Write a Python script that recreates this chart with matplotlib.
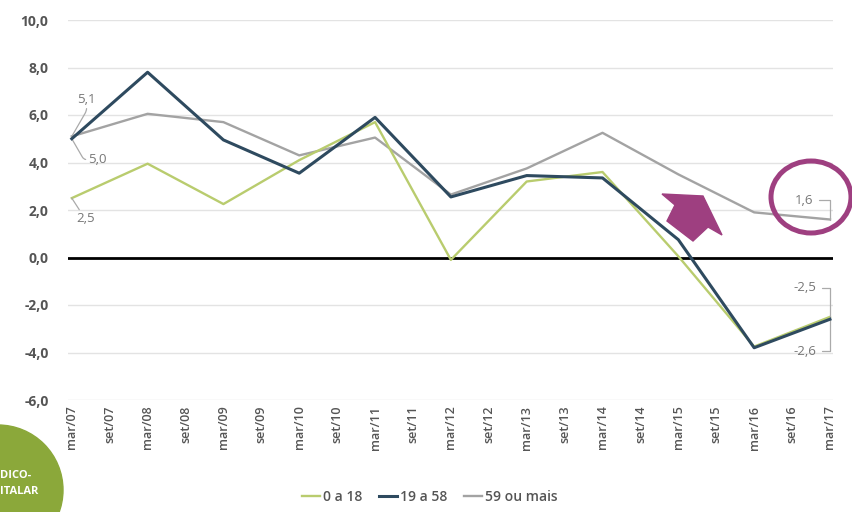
import matplotlib
matplotlib.use("Agg")
import matplotlib.pyplot as plt
import matplotlib.patches as mpatches
from matplotlib.transforms import IdentityTransform

plt.rcParams['font.family'] = ['Open Sans', 'DejaVu Sans']

# ---- data ----
x_labels = ['mar/07', 'set/07', 'mar/08', 'set/08', 'mar/09', 'set/09', 'mar/10',
            'set/10', 'mar/11', 'set/11', 'mar/12', 'set/12', 'mar/13', 'set/13',
            'mar/14', 'set/14', 'mar/15', 'set/15', 'mar/16', 'set/16', 'mar/17']
data_labels = ['mar/07', 'mar/08', 'mar/09', 'mar/10', 'mar/11', 'mar/12',
               'mar/13', 'mar/14', 'mar/15', 'mar/16', 'mar/17']
s_0a18 = [2.5, 3.95, 2.25, 4.1, 5.7, -0.1, 3.2, 3.6, 0.05, -3.75, -2.5]
s_19a58 = [5.0, 7.8, 4.95, 3.55, 5.9, 2.55, 3.45, 3.35, 0.75, -3.8, -2.6]
s_59mais = [5.1, 6.05, 5.7, 4.3, 5.05, 2.65, 3.75, 5.25, 3.5, 1.9, 1.6]
series_names = ['0 a 18', '19 a 58', '59 ou mais']
y_ticks = [-6, -4, -2, 0, 2, 4, 6, 8, 10]

W, H = 853, 512
fig = plt.figure(figsize=(W / 100, H / 100), dpi=100)
ax = fig.add_axes([68 / W, 1 - 400 / H, (833 - 68) / W, (400 - 20) / H])

xpos = [x_labels.index(l) for l in data_labels]
c_green = '#b9cc6e'
c_blue = '#2e4a5f'
c_gray = '#a3a3a3'

for yv in y_ticks:
    if yv != 0:
        ax.axhline(yv, color='#e3e3e3', lw=1.0, zorder=0)
ax.axhline(0, color='black', lw=2.0, zorder=1)

ax.plot(xpos, s_0a18, color=c_green, lw=1.7, label=series_names[0], zorder=3)
ax.plot(xpos, s_19a58, color=c_blue, lw=2.2, label=series_names[1], zorder=4)
ax.plot(xpos, s_59mais, color=c_gray, lw=1.7, label=series_names[2], zorder=2)

ax.set_xlim(-0.1, 20.08)
ax.set_ylim(-6, 10)
ax.set_xticks(range(len(x_labels)))
ax.set_xticklabels(x_labels, rotation=90, fontsize=9, color='#555555', fontweight='semibold')
ax.set_yticks(y_ticks)
ax.set_yticklabels([f"{v:.1f}".replace('.', ',') for v in y_ticks],
                   fontsize=10, fontweight='bold', color='#555555')
ax.tick_params(axis='both', length=0)
ax.tick_params(axis='y', pad=14)
ax.tick_params(axis='x', pad=4)
for sp in ax.spines.values():
    sp.set_visible(False)

# annotations (labels with leader lines)
lab_col = '#777777'
def fmt(v):
    return f"{v:.1f}".replace('.', ',')

ax.annotate(fmt(s_59mais[0]), xy=(xpos[0], s_59mais[0]), xytext=(4, 22), textcoords='offset points',
            fontsize=9.5, color=lab_col, ha='left', va='bottom',
            arrowprops=dict(arrowstyle='-', color='#aaaaaa', lw=0.9, shrinkA=0, shrinkB=0,
                            connectionstyle='angle,angleA=-90,angleB=60,rad=3'))
ax.annotate(fmt(s_19a58[0]), xy=(xpos[0], s_19a58[0]), xytext=(12, -15), textcoords='offset points',
            fontsize=9.5, color=lab_col, ha='left', va='center',
            arrowprops=dict(arrowstyle='-', color='#aaaaaa', lw=0.9, shrinkA=0, shrinkB=0,
                            connectionstyle='angle,angleA=180,angleB=-60,rad=3'))
ax.annotate(fmt(s_0a18[0]), xy=(xpos[0], s_0a18[0]), xytext=(3, -15), textcoords='offset points',
            fontsize=9.5, color=lab_col, ha='left', va='center',
            arrowprops=dict(arrowstyle='-', color='#aaaaaa', lw=0.9, shrinkA=0, shrinkB=10,
                            connectionstyle='arc3'))

# right-side bracket labels
ax.annotate(fmt(s_59mais[-1]), xy=(xpos[-1], s_59mais[-1]), xytext=(-12, 14), textcoords='offset points',
            fontsize=9.5, color=lab_col, ha='right', va='center',
            arrowprops=dict(arrowstyle='-', color='#aaaaaa', lw=0.9, shrinkA=2, shrinkB=0,
                            connectionstyle='angle,angleA=0,angleB=90,rad=0'))
ax.annotate(fmt(s_0a18[-1]), xy=(xpos[-1], s_0a18[-1]), xytext=(-10, 21), textcoords='offset points',
            fontsize=9.5, color=lab_col, ha='right', va='center',
            arrowprops=dict(arrowstyle='-', color='#aaaaaa', lw=0.9, shrinkA=2, shrinkB=0,
                            connectionstyle='angle,angleA=0,angleB=90,rad=0'))
ax.annotate(fmt(s_19a58[-1]), xy=(xpos[-1], s_19a58[-1]), xytext=(-10, -23), textcoords='offset points',
            fontsize=9.5, color=lab_col, ha='right', va='center',
            arrowprops=dict(arrowstyle='-', color='#aaaaaa', lw=0.9, shrinkA=2, shrinkB=0,
                            connectionstyle='angle,angleA=0,angleB=90,rad=0'))

# legend
leg = fig.legend(loc='center', bbox_to_anchor=(430 / W, 1 - 497 / H), ncol=3, frameon=False,
                 handlelength=1.3, handletextpad=0.2, columnspacing=1.2,
                 labelcolor='#555555', prop={'weight': 'semibold', 'size': 10})

# purple highlight ellipse and block arrow (pixel coords, y measured from top)
ident = IdentityTransform()
purple = '#9e3f80'
ell = mpatches.Ellipse((811, H - 197), 80, 72, fill=False, edgecolor=purple, lw=3.6,
                       transform=ident, zorder=10)
fig.patches.append(ell)
arrow_px = [(662, 194), (703, 196), (722, 235), (708, 227), (693, 241), (667, 221), (675, 205)]
arr = mpatches.Polygon([(px, H - py) for px, py in arrow_px], closed=True, color=purple,
                       transform=ident, zorder=10)
fig.patches.append(arr)

# green section badge bottom-left
circ = mpatches.Circle((-2, H - 490), 65, color='#8ba83a', transform=ident, zorder=10)
fig.patches.append(circ)
fig.text(0 / W, 1 - 476 / H, 'DICO-', color='white', fontsize=8, fontweight='bold',
         ha='left', va='center', zorder=11)
fig.text(0 / W, 1 - 492 / H, 'ITALAR', color='white', fontsize=8, fontweight='bold',
         ha='left', va='center', zorder=11)

fig.savefig('out.png', dpi=100)
